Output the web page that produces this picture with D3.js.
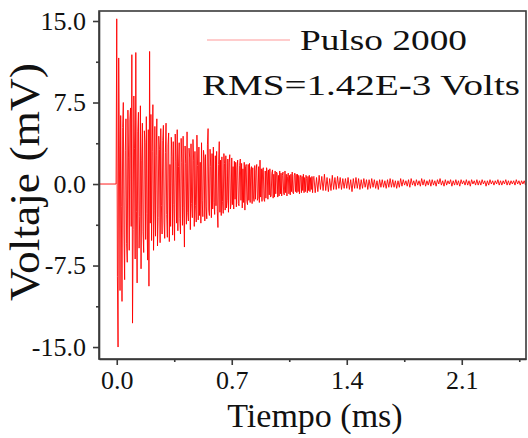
<!DOCTYPE html>
<html>
<head>
  <meta charset="utf-8">
  <script src="https://d3js.org/d3.v7.min.js"></script>
  <style>
    body { margin: 0; background: #fff; }
    text { font-family: "Liberation Serif", "Times New Roman", serif; fill: #111; }
    .axis path, .axis line { stroke: #3a3a3a; stroke-width: 1.6; }
    .axis text { font-family: "Liberation Serif", "Times New Roman", serif; font-size: 26px; fill: #111; }
  </style>
</head>
<body>
<script type="text/javascript">
  /*
    Datos (voltaje en mV).
    lineaBase: tramo plano antes del pulso.
    pulso: una muestra cada 0.004 ms desde t = 0.
    cola: una muestra cada 0.008 ms desde t = 1.2 ms.
  */
  var tLineaBase = [-0.108, -0.004];
  var lineaBase = [0, 0];

  var tPulso = 0, pasoPulso = 0.004;
  var pulso = [
    15.2, -8.5, -15.0, 11.6, 3.5, -9.8, 6.3, -2.1, -10.8, 5.2, 7.5, -4.6, -8.8, 3.1, 6.0, -5.5, -7.2, 6.8, 2.4, -6.1, 5.9, 7.0, -3.9, 11.9, -12.8,
    -4.2, 8.1, 3.3, -6.9, 12.1, -2.5, -9.1, 4.8, 6.6, -5.9, -3.0, 7.2, -7.8, 2.2, 5.6, -4.4, -6.3, 4.9, 3.8, -5.1, 6.2, -2.7, -7.0, 5.0, -9.4,
    12.2, -3.6, 6.4, -5.2, 3.0, 7.3, -6.1, -2.4, 5.3, -4.8, 2.6, 6.0, -5.7, -3.1, 4.4, 3.2, -5.4, 5.1, -2.0, -4.6, 4.0, 5.4, -3.5, -5.0, 2.9,
    5.6, -2.8, -4.9, 3.6, 4.7, -5.3, 1.8, -3.9, 4.3, 2.5, -4.7, 3.9, -1.9, -5.2, 4.6, 2.1, -3.6, 5.0, -4.3, 1.6, 3.8, -3.2, -4.6, 4.2, 2.0,
    -3.8, 4.4, -2.2, -5.8, 3.5, 1.9, -3.7, 4.8, -2.6, -3.4, 3.3, 2.4, -4.2, 3.7, -1.8, -3.1, 4.1, 2.2, -3.9, 3.0, -2.0, -3.5, 4.5, 1.7, -3.3,
    3.4, -2.9, 2.0, -3.6, 3.8, -1.5, -3.0, 3.1, 2.3, -3.4, 2.7, -2.1, -3.2, 3.6, 5.1, -2.4, -2.9, 3.2, 1.6, -3.1, 2.8, -2.3, 3.4, -1.7, -2.8,
    2.6, -2.0, 3.0, -2.5, -4.0, 1.8, 3.9, -2.6, 2.2, -2.9, 2.5, -1.6, -2.7, 2.8, 1.9, -2.4, 2.6, -2.2, -1.5, 2.3, -2.6, 2.0, 2.7, -2.3, -1.8,
    2.4, -1.9, 1.6, -2.3, 2.1, -1.4, 2.0, -2.1, 1.5, 2.2, -1.8, -2.0, 1.7, 2.3, -1.5, 1.9, -2.2, 1.4, -1.7, 2.0, -2.4, 1.6, 1.8, -1.6, -1.9,
    1.8, -1.5, 1.9, -1.7, 1.3, 1.6, -1.8, 1.5, -1.2, -1.6, 1.7, -1.4, 1.2, 1.8, -1.5, -1.3, 1.6, -1.7, 2.2, -1.2, 1.4, -1.6, 1.3, 1.5, -1.4,
    -1.6, 1.2, -1.3, 1.5, 1.1, -1.4, 1.3, -1.0, 1.4, -1.2, -1.1, 1.0, 1.3, -1.3, 0.9, -1.2, 1.2, -0.9, 1.1, 1.0, -1.2, 0.8, -1.1, 1.2, -0.9,
    1.0, -1.1, 0.8, 1.1, -0.9, -1.0, 1.2, -0.8, 0.9, -1.1, 0.7, 1.0, -0.9, 0.8, -1.0, 0.9, -0.7, 1.1, -0.8, -0.9, 0.8, 1.0, -0.7, 0.9, -0.8,
    0.9, -0.7, 0.8, -0.9, 0.6, 0.8, -0.8, 0.7, -0.6, 0.9, -0.8, 0.6, -0.7, 0.8, 0.5, -0.8, 0.7, -0.6, 0.8, -0.7, 0.6, -0.5, 0.7, -0.8, 0.6
  ];

  var tCola = 1.2, pasoCola = 0.008;
  var cola = [
    0.7, -0.8, 0.6, -0.7, 0.8, -0.5, 0.7, -0.6, 0.9, -0.6, 0.6, -0.7, 0.5, -0.6, 0.8, -0.5, 0.6, -0.5,
    0.7, -0.4, 0.6, -0.5, 0.5, -0.4, 0.5, -0.4, 0.6, -0.5, 0.4, -0.7, 0.5, -0.4, 0.6, -0.4, 0.5, -0.5, 0.4, -0.4, 0.5, -0.3, 0.4, -0.5,
    0.4, -0.4, 0.5, -0.3, 0.4, -0.4, 0.3, -0.5, 0.4, -0.3, 0.4, -0.3, 0.3, -0.4, 0.4, -0.3, 0.5, -0.3, 0.4, -0.3, 0.3, -0.4, 0.3, -0.3,
    0.5, -0.2, 0.4, -0.1, 0.3, -0.2, 0.4, -0.3, 0.5, -0.1, 0.3, -0.2, 0.4, -0.1, 0.3, -0.2, 0.5, -0.1, 0.4, -0.2, 0.3, -0.1, 0.4, -0.2,
    0.4, -0.1, 0.3, -0.2, 0.4, 0.0, 0.5, -0.1, 0.3, -0.2, 0.4, -0.1, 0.3, 0.0, 0.4, -0.2, 0.3, -0.1, 0.4, -0.1, 0.3, -0.2, 0.4, 0.0,
    0.3, -0.1, 0.4, -0.1, 0.3, -0.2, 0.4, 0.0, 0.3, -0.1, 0.4, -0.1, 0.3, -0.1, 0.4, 0.0, 0.3, -0.2, 0.3, -0.1, 0.4, 0.0, 0.3, -0.1,
    0.3, 0.0, 0.4, -0.1, 0.3, -0.1, 0.3, 0.0, 0.4, -0.1, 0.3, -0.1, 0.3, 0.0, 0.3, -0.1, 0.4, 0.0, 0.3, -0.1, 0.3, 0.0, 0.3, -0.1
  ];

  var ticksX = [0, 0.7, 1.4, 2.1];
  var ticksXmenor = [0.35, 1.05, 1.75, 2.45];
  var ticksY = [-15, -7.5, 0, 7.5, 15];
  var ticksYmenor = [-11.25, -3.75, 3.75, 11.25];

  var serie = "Pulso 2000";
  var nota = "RMS=1.42E-3 Volts";

  function draw() {
    var width = 528, height = 438;
    var mLeft = 99, mRight = 526, mTop = 11, mBottom = 359;

    // une los tres tramos en una sola serie {t, v}
    var puntos = [];
    lineaBase.forEach(function (v, i) { puntos.push({ t: tLineaBase[i], v: v }); });
    pulso.forEach(function (v, i) { puntos.push({ t: tPulso + i * pasoPulso, v: v }); });
    cola.forEach(function (v, i) { puntos.push({ t: tCola + i * pasoCola, v: v }); });

    var svg = d3.select("body")
        .append("svg")
        .attr("width", width)
        .attr("height", height);

    var x = d3.scaleLinear().domain([-0.108, 2.491]).range([mLeft, mRight]);
    var y = d3.scaleLinear().domain([-16.1, 15.92]).range([mBottom, mTop]);

    var fmt = function (d) { return d.toFixed(1); };

    svg.append("clipPath").attr("id", "clip")
      .append("rect")
      .attr("x", mLeft).attr("y", mTop)
      .attr("width", mRight - mLeft).attr("height", mBottom - mTop);

    var linea = d3.line()
        .x(function (d) { return x(d.t); })
        .y(function (d) { return y(d.v); });

    svg.append("path")
      .datum(puntos)
      .attr("clip-path", "url(#clip)")
      .attr("fill", "none")
      .attr("stroke", "#ff0000")
      .attr("stroke-width", 0.9)
      .attr("d", linea);

    // marco
    svg.append("rect")
      .attr("x", mLeft).attr("y", mTop)
      .attr("width", mRight - mLeft).attr("height", mBottom - mTop)
      .attr("fill", "none")
      .attr("stroke", "#3a3a3a")
      .attr("stroke-width", 1.6);

    svg.append("g").attr("class", "axis")
      .attr("transform", "translate(0," + mBottom + ")")
      .call(d3.axisBottom(x).tickValues(ticksX).tickFormat(fmt).tickSize(6).tickSizeOuter(0).tickPadding(6));
    svg.append("g").attr("class", "axis")
      .attr("transform", "translate(0," + mBottom + ")")
      .call(d3.axisBottom(x).tickValues(ticksXmenor).tickFormat("").tickSize(3).tickSizeOuter(0))
      .select(".domain").remove();

    svg.append("g").attr("class", "axis")
      .attr("transform", "translate(" + mLeft + ",0)")
      .call(d3.axisLeft(y).tickValues(ticksY).tickFormat(fmt).tickSize(6).tickSizeOuter(0).tickPadding(7));
    svg.append("g").attr("class", "axis")
      .attr("transform", "translate(" + mLeft + ",0)")
      .call(d3.axisLeft(y).tickValues(ticksYmenor).tickFormat("").tickSize(3).tickSizeOuter(0))
      .select(".domain").remove();

    svg.append("text")
      .attr("x", 315).attr("y", 427)
      .attr("text-anchor", "middle")
      .style("font-size", "34px")
      .text("Tiempo (ms)");

    svg.append("text")
      .attr("transform", "translate(39,182) rotate(-90)")
      .attr("text-anchor", "middle")
      .style("font-size", "42px")
      .attr("textLength", 238)
      .attr("lengthAdjust", "spacingAndGlyphs")
      .text("Voltaje (mV)");

    // leyenda
    svg.append("line")
      .attr("x1", 207).attr("x2", 290)
      .attr("y1", 40).attr("y2", 40)
      .attr("stroke", "#ff0000")
      .attr("stroke-opacity", 0.4)
      .attr("stroke-width", 1.2);

    svg.append("text")
      .attr("x", 300).attr("y", 50)
      .style("font-size", "30px")
      .attr("textLength", 167)
      .attr("lengthAdjust", "spacingAndGlyphs")
      .text(serie);

    svg.append("text")
      .attr("x", 202).attr("y", 95)
      .style("font-size", "30px")
      .attr("textLength", 318)
      .attr("lengthAdjust", "spacingAndGlyphs")
      .text(nota);
  }

  draw();
</script>
</body>
</html>
